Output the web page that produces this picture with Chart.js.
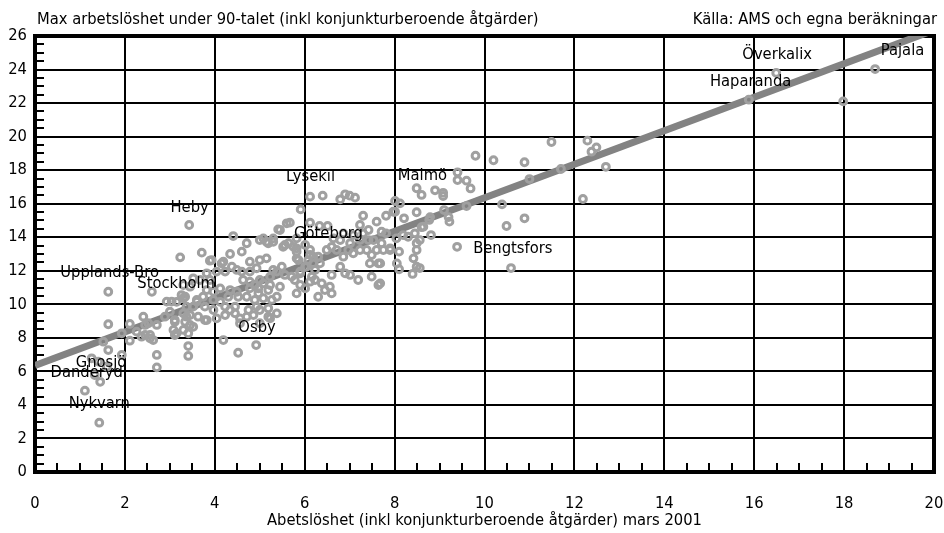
<!DOCTYPE html>
<html><head><meta charset="utf-8">
<script src="https://cdn.jsdelivr.net/npm/chart.js@4/dist/chart.umd.min.js"></script>
<style>html,body{margin:0;padding:0;background:#fff}#wrap{width:944px;height:533px}</style>
</head><body><div id="wrap"><canvas id="c" width="944" height="533"></canvas></div>
<script>
// ---------- DATA ----------
const chartTitle = 'Max arbetslöshet under 90-talet (inkl konjunkturberoende åtgärder)';
const sourceText = 'Källa: AMS och egna beräkningar';
const xAxisTitle = 'Abetslöshet (inkl konjunkturberoende åtgärder) mars 2001';
const xTicks = [0, 2, 4, 6, 8, 10, 12, 14, 16, 18, 20];
const yTicks = [0, 2, 4, 6, 8, 10, 12, 14, 16, 18, 20, 22, 24, 26];

// x: unemployment March 2001, y: max unemployment during the 90s (one pair per municipality)
const unempMar2001 = [
18.69,17.98,16.49,15.88,
11.49,12.29,12.49,12.38,12.70,12.19,11.70,11.00,10.89,10.20,9.80,10.39,10.89,10.49,10.59,9.39,9.60,9.69,9.60,9.40,9.40,9.08,9.08,8.90,9.10,9.20,9.22,8.79,8.81,8.60,8.56,
8.49,8.60,8.01,8.12,7.81,8.01,8.21,8.49,8.77,8.64,7.81,8.19,8.30,7.71,7.90,8.10,8.49,8.49,8.42,8.49,8.10,8.40,7.68,7.68,
6.12,6.40,6.79,6.90,7.00,7.12,5.91,6.12,6.33,6.51,7.30,7.23,7.60,
5.82,5.67,5.82,5.82,6.01,6.12,6.08,6.19,6.34,6.49,6.60,6.71,6.86,6.97,7.08,7.23,7.38,7.49,7.60,7.45,7.64,7.75,7.90,7.42,7.53,7.23,7.30,7.08,7.01,6.79,6.86,6.64,
5.90,5.78,6.23,6.12,6.23,6.38,6.60,6.79,6.90,7.01,7.19,7.49,7.64,6.56,6.45,6.30,6.60,6.01,5.90,5.82,
7.97,7.42,7.71,8.04,8.45,8.56,8.05,5.52,5.86,6.01,6.16,
3.43,4.41,3.23,3.71,3.89,4.34,4.19,4.60,4.71,5.00,5.15,5.30,5.41,5.60,5.64,4.78,5.00,5.15,4.49,4.60,4.78,4.93,5.30,5.49,4.15,4.04,4.23,4.38,3.82,3.89,3.52,3.67,3.30,3.45,
4.63,4.78,5.00,5.23,5.38,5.56,5.71,5.90,6.04,6.19,6.30,4.34,4.49,4.30,4.52,4.71,4.89,5.08,5.27,5.38,4.78,4.97,5.23,3.82,3.97,4.12,3.60,3.74,3.97,4.12,4.23,4.34,3.97,3.26,3.15,
3.37,3.52,3.30,3.45,3.63,3.82,4.04,4.23,4.45,4.56,4.71,4.86,5.00,5.19,5.23,5.38,3.00,3.11,3.34,3.45,3.08,3.30,3.11,4.56,5.19,4.19,4.52,4.92,3.41,3.41,5.08,5.19,5.45,
4.97,4.89,4.45,4.75,4.93,5.00,5.56,5.75,5.82,6.12,5.08,5.19,5.30,5.45,3.34,3.93,
1.63,1.63,1.52,1.63,1.93,1.93,1.26,1.41,1.60,1.45,1.33,1.11,1.43,2.11,2.11,2.26,2.41,2.45,2.56,2.63,2.37,2.52,2.71,2.89,2.93,3.04,3.11,3.15,3.30,3.37,3.41,3.52,3.60,3.78,3.78,2.60,2.71,2.71,2.45,2.56
];
const maxUnemp90s = [
24.03,22.10,23.80,22.20,
19.68,19.76,19.36,19.10,18.20,16.28,18.07,17.47,18.47,18.59,18.86,15.96,15.13,14.67,12.16,13.43,15.86,16.91,17.37,17.87,17.41,16.65,16.46,16.80,15.62,15.20,14.93,15.20,14.13,14.60,12.16,
16.92,16.52,16.16,16.02,15.28,15.52,15.13,15.49,15.03,14.63,14.23,14.13,14.03,13.64,13.34,13.14,13.64,13.24,12.74,12.24,12.09,11.81,12.44,11.25,
16.42,16.48,16.26,16.56,16.48,16.36,15.66,14.87,14.67,14.67,15.28,14.73,14.93,
13.93,14.87,13.34,12.74,13.54,13.24,12.64,12.84,12.44,13.24,13.43,13.24,12.84,13.24,13.04,13.24,13.24,12.94,13.24,12.44,12.44,13.24,13.24,13.83,13.83,13.83,14.23,14.13,13.64,13.83,14.23,13.93,
11.85,11.45,12.05,11.35,11.45,11.25,11.75,12.24,11.85,11.75,11.45,11.65,11.15,11.05,10.85,10.45,10.65,10.95,11.15,10.65,
15.52,14.43,14.33,13.93,14.23,13.83,12.44,13.43,12.64,12.24,11.65,
14.73,14.07,12.80,13.08,12.60,13.00,12.54,13.14,13.64,13.83,13.73,13.73,14.47,14.83,13.64,12.54,12.64,12.74,12.05,11.95,11.95,12.15,12.05,12.24,12.44,11.95,11.95,12.24,11.85,11.45,11.55,11.45,11.15,11.05,
11.45,11.35,11.45,11.65,11.95,11.75,11.65,11.95,12.24,12.44,12.84,10.85,10.75,10.45,10.45,10.45,10.26,10.36,10.26,10.45,10.95,10.95,11.15,10.85,10.75,10.95,10.26,10.45,10.26,10.15,9.86,9.66,9.66,10.55,10.15,
9.86,9.86,9.46,9.36,9.26,9.06,9.16,9.36,9.46,9.16,9.26,9.36,9.66,9.76,9.16,9.46,9.56,9.06,8.96,8.77,8.47,8.47,8.17,8.87,9.26,7.87,7.11,7.57,7.51,6.92,11.25,10.85,11.05,
10.66,11.15,9.86,9.66,9.86,8.87,13.54,13.43,13.14,12.94,13.93,13.64,13.93,14.43,10.45,12.64,
10.75,8.81,7.77,7.27,8.27,6.98,6.78,6.58,6.28,5.38,5.78,4.85,2.94,8.83,7.83,8.37,9.26,8.77,8.17,7.87,8.07,8.87,8.77,9.26,10.16,10.16,8.96,8.27,10.36,9.26,8.27,8.66,10.16,9.86,9.06,10.75,6.98,6.24,8.17,7.97
];

// fitted regression line end points
const trendX = [0, 20];
const trendY = [6.35, 26.35];

// names printed in the chart and the data point where each name sits
const labelNames = ['Överkalix','Haparanda','Pajala','Malmö','Lysekil','Göteborg','Bengtsfors','Heby','Upplands-Bro','Stockholm','Osby','Gnosjö','Danderyd','Nykvarn'];
const labelX = [16.51, 15.92, 19.30, 8.62, 6.13, 6.53, 10.63, 3.44, 1.66, 3.14, 4.94, 1.47, 1.15, 1.43];
const labelY = [24.87, 23.26, 25.10, 17.65, 17.59, 14.19, 13.30, 15.74, 11.87, 11.21, 8.59, 6.50, 5.90, 4.05];

// ---------- CHART ----------
const FONT = '"Liberation Sans Narrow", "Arial Narrow", "DejaVu Sans Condensed", sans-serif';
const FS = 16.4;

const points = unempMar2001.map((x, i) => ({ x: x, y: maxUnemp90s[i] }));
const trend = trendX.map((x, i) => ({ x: x, y: trendY[i] }));

const bgPlugin = {
  id: 'bg',
  beforeDraw(chart) {
    const c = chart.ctx;
    c.save(); c.fillStyle = '#fff'; c.fillRect(0, 0, chart.width, chart.height); c.restore();
  }
};

const framePlugin = {
  id: 'frame',
  beforeDatasetsDraw(chart) {
    const c = chart.ctx, a = chart.chartArea;
    const xs = chart.scales.x, ys = chart.scales.y;
    c.save();
    c.strokeStyle = '#000';
    c.lineWidth = 2;
    c.beginPath();
    for (let v = 0.5; v < 26; v += 0.5) {
      if (v % 2 === 0) continue;
      const py = Math.round(ys.getPixelForValue(v));
      c.moveTo(a.left, py); c.lineTo(a.left + 9, py);
    }
    for (let v = 0.5; v < 20; v += 0.5) {
      if (v % 2 === 0) continue;
      const px = Math.round(xs.getPixelForValue(v));
      c.moveTo(px, a.bottom); c.lineTo(px, a.bottom - 9);
    }
    c.stroke();
    c.lineWidth = 4;
    c.strokeRect(a.left, a.top, a.right - a.left, a.bottom - a.top);
    c.restore();
  }
};

const textPlugin = {
  id: 'texts',
  afterDatasetsDraw(chart) {
    const c = chart.ctx, a = chart.chartArea;
    const xs = chart.scales.x, ys = chart.scales.y;
    c.save();
    c.fillStyle = '#000';
    c.font = FS + 'px ' + FONT;
    c.textAlign = 'center';
    c.textBaseline = 'middle';
    labelNames.forEach((n, i) => {
      c.fillText(n, xs.getPixelForValue(labelX[i]), ys.getPixelForValue(labelY[i]));
    });
    c.textAlign = 'left';
    c.fillText(chartTitle, a.left + 2, a.top - 16);
    c.textAlign = 'right';
    c.fillText(sourceText, a.right + 3, a.top - 16);
    c.restore();
  }
};

new Chart(document.getElementById('c'), {
  data: {
    datasets: [
      {
        type: 'scatter',
        data: points,
        pointRadius: 3.4,
        pointBorderWidth: 3,
        borderColor: '#a0a0a0',
        backgroundColor: 'rgba(0,0,0,0)',
        pointHoverRadius: 3.4
      },
      {
        type: 'line',
        data: trend,
        borderColor: '#838383',
        borderWidth: 7,
        pointRadius: 0,
        fill: false,
        tension: 0
      }
    ]
  },
  options: {
    responsive: false,
    animation: false,
    devicePixelRatio: 1,
    layout: { padding: { top: 36, right: 10, left: 0, bottom: 0 } },
    plugins: { legend: { display: false }, tooltip: { enabled: false } },
    scales: {
      x: {
        type: 'linear', min: 0, max: 20,
        afterBuildTicks: s => { s.ticks = xTicks.map(v => ({ value: v })); },
        afterFit: s => { s.height = 61; s.paddingRight = 0; s.paddingLeft = 0; },
        grid: { color: '#000', lineWidth: 2, drawTicks: false },
        border: { display: false },
        ticks: { color: '#000', font: { family: FONT, size: FS }, padding: 22, maxRotation: 0 },
        title: { display: true, text: xAxisTitle, color: '#000', font: { family: FONT, size: FS }, padding: { top: 0, bottom: 2 } }
      },
      y: {
        type: 'linear', min: 0, max: 26,
        afterBuildTicks: s => { s.ticks = yTicks.map(v => ({ value: v })); },
        afterFit: s => { s.width = 35; s.paddingTop = 0; s.paddingBottom = 0; },
        grid: { color: '#000', lineWidth: 2, drawTicks: false },
        border: { display: false },
        ticks: { color: '#000', font: { family: FONT, size: FS }, padding: 8 }
      }
    }
  },
  plugins: [bgPlugin, framePlugin, textPlugin]
});
</script>
</body></html>
